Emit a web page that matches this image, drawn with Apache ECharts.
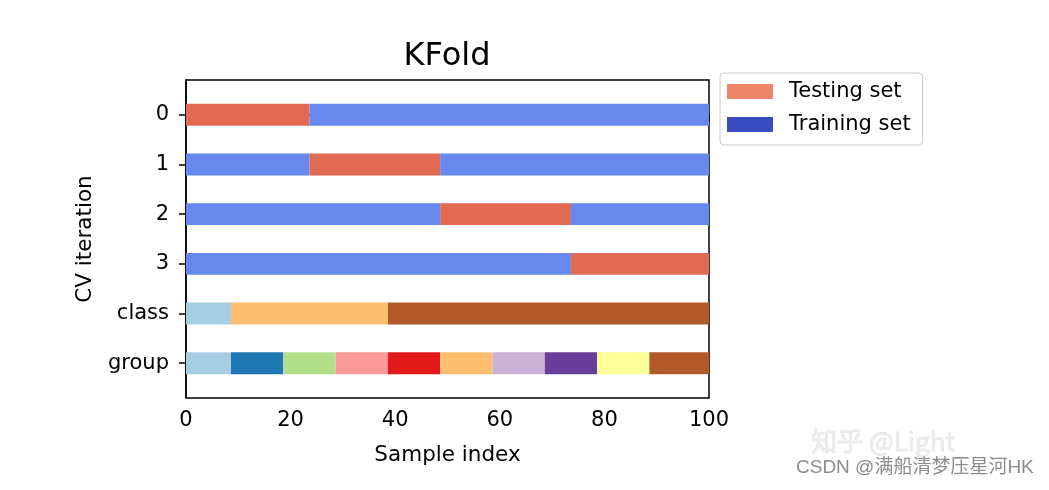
<!DOCTYPE html>
<html>
<head>
<meta charset="utf-8">
<script src="https://cdn.jsdelivr.net/npm/echarts@6/dist/echarts.min.js"></script>
<style>
	html, body { margin: 0; padding: 0; background: #fff; }
	#kfold { width: 1049px; height: 490px; }
</style>
</head>
<body>
<div id="kfold"></div>
<script>
// rows on the y axis, top to bottom
var rowLabels = ['0', '1', '2', '3', 'class', 'group'];
var xTicks = [0, 20, 40, 60, 80, 100];

// KFold test fold of each CV iteration (sample index from / to)
var testStart = [0, 23.6, 48.6, 73.6];
var testEnd = [23.6, 48.6, 73.6, 100];

// class and group segments (edges along sample index)
var classEdges = [0, 8.6, 38.6, 100];
var classColors = ['#a6cee3', '#fdbf6f', '#b15928'];
var groupEdges = [0, 8.6, 18.6, 28.6, 38.6, 48.6, 58.6, 68.6, 78.6, 88.6, 100];
var groupColors = ['#a6cee3', '#1f78b4', '#b2df8a', '#fb9a99', '#e31a1c',
	'#fdbf6f', '#cab2d6', '#6a3d9a', '#ffff99', '#b15928'];

var barTest = '#e26952';
var barTrain = '#6788ee';
var font = 'DejaVu Sans';

// build segments [from, to, row] with their own colour
var testData = [], trainData = [], infoData = [], infoColors = [];
for (var i = 0; i < testStart.length; i++) {
	testData.push([testStart[i], testEnd[i], i]);
	if (testStart[i] > 0) trainData.push([0, testStart[i], i]);
	if (testEnd[i] < 100) trainData.push([testEnd[i], 100, i]);
}
for (var c = 0; c < classColors.length; c++) {
	infoData.push([classEdges[c], classEdges[c + 1], 4]);
	infoColors.push(classColors[c]);
}
for (var g = 0; g < groupColors.length; g++) {
	infoData.push([groupEdges[g], groupEdges[g + 1], 5]);
	infoColors.push(groupColors[g]);
}

function segRender(colorOf) {
	return function(params, api) {
		var p0 = api.coord([api.value(0), api.value(2)]);
		var p1 = api.coord([api.value(1), api.value(2)]);
		var h = api.size([0, 0.44])[1];
		var shape = echarts.graphic.clipRectByRect({
			x: p0[0], y: p0[1] - h / 2, width: p1[0] - p0[0], height: h
		}, {
			x: params.coordSys.x, y: params.coordSys.y,
			width: params.coordSys.width, height: params.coordSys.height
		});
		return shape && {
			type: 'rect',
			shape: shape,
			style: { fill: colorOf(params.dataIndex) }
		};
	};
}

var option = {
	animation: false,
	backgroundColor: '#fff',
	title: {
		text: 'KFold',
		left: 442,
		textAlign: 'center',
		top: 36,
		textStyle: { fontFamily: font, fontSize: 32, fontWeight: 'normal', color: '#000' }
	},
	legend: {
		data: ['Testing set', 'Training set'],
		orient: 'vertical',
		left: 720,
		top: 73,
		padding: [8, 12, 10, 7],
		itemWidth: 46,
		itemHeight: 15,
		itemGap: 12,
		icon: 'rect',
		borderColor: '#cccccc',
		borderWidth: 1,
		borderRadius: 4,
		backgroundColor: '#fff',
		textStyle: { fontFamily: font, fontSize: 21, color: '#000', padding: [0, 0, 0, 11] }
	},
	grid: {
		left: 186, right: 340, top: 80, bottom: 92,
		show: true, borderColor: '#000', borderWidth: 1.5, backgroundColor: 'transparent'
	},
	xAxis: {
		type: 'value',
		min: 0, max: 100, interval: 20,
		name: 'Sample index',
		nameLocation: 'middle',
		nameGap: 46,
		nameTextStyle: { fontFamily: font, fontSize: 21.5, color: '#000' },
		axisLine: { show: true, lineStyle: { color: '#000', width: 1.5 } },
		axisTick: { show: true, length: 7, lineStyle: { color: '#000', width: 1.5 } },
		axisLabel: {
			margin: 12,
			fontFamily: font, fontSize: 21, color: '#000',
			customValues: xTicks
		},
		splitLine: { show: false }
	},
	yAxis: {
		type: 'value',
		inverse: true,
		min: -0.7, max: 5.7,
		name: 'CV iteration',
		nameLocation: 'middle',
		nameRotate: 90,
		nameGap: 90,
		nameTextStyle: { fontFamily: font, fontSize: 21.5, color: '#000' },
		axisLine: { show: true, lineStyle: { color: '#000', width: 1.5 } },
		axisTick: {
			show: true, length: 7, lineStyle: { color: '#000', width: 1.5 },
			customValues: [0, 1, 2, 3, 4, 5]
		},
		axisLabel: {
			margin: 17,
			fontFamily: font, fontSize: 21, color: '#000',
			customValues: [0, 1, 2, 3, 4, 5],
			formatter: function(v) { return rowLabels[Math.round(v)]; }
		},
		splitLine: { show: false }
	},
	series: [{
		name: 'Testing set',
		type: 'custom',
		itemStyle: { color: '#ee8468' },
		renderItem: segRender(function() { return barTest; }),
		encode: { x: [0, 1], y: 2 },
		data: testData
	}, {
		name: 'Training set',
		type: 'custom',
		itemStyle: { color: '#3b4cc0' },
		renderItem: segRender(function() { return barTrain; }),
		encode: { x: [0, 1], y: 2 },
		data: trainData
	}, {
		name: 'info',
		type: 'custom',
		renderItem: segRender(function(idx) { return infoColors[idx]; }),
		encode: { x: [0, 1], y: 2 },
		data: infoData
	}],
	graphic: [{
		type: 'text',
		left: 811, top: 428,
		style: {
			text: '知乎 @Light',
			fontFamily: 'Noto Sans CJK SC', fontSize: 26,
			fill: '#ececec', stroke: '#d8d8d8', lineWidth: 0.6
		}
	}, {
		type: 'text',
		left: 796, top: 458,
		style: {
			text: 'CSDN @满船清梦压星河HK',
			fontFamily: 'Liberation Sans, Noto Sans CJK SC', fontSize: 19,
			fill: '#8c8c8c'
		}
	}]
};
var my = echarts.init(document.getElementById('kfold'));
my.setOption(option);
</script>
</body>
</html>
